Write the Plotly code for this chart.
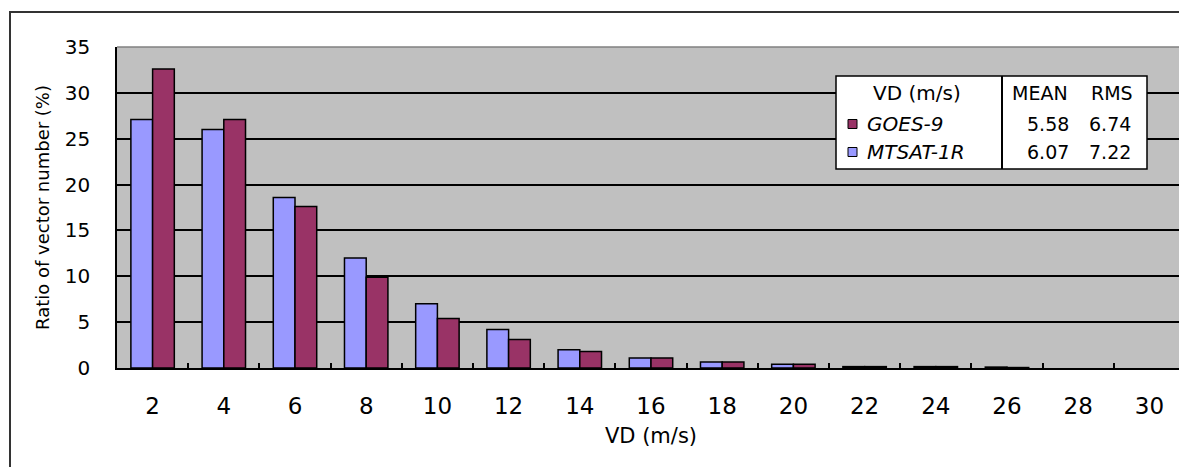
import plotly.graph_objects as go

categories = ["2", "4", "6", "8", "10", "12", "14", "16", "18", "20", "22", "24", "26", "28", "30"]
mtsat = [27.1, 26.0, 18.6, 12.0, 7.0, 4.2, 2.0, 1.1, 0.65, 0.4, 0.15, 0.15, 0.1, 0.0, 0.0]
goes = [32.6, 27.1, 17.6, 9.9, 5.4, 3.1, 1.8, 1.1, 0.65, 0.4, 0.15, 0.15, 0.05, 0.0, 0.0]

series_names = ["GOES-9", "MTSAT-1R"]
series_colors = ["#993366", "#9999FF"]
stat_header = ["MEAN", "RMS"]
stat_values = [["5.58", "6.74"], ["6.07", "7.22"]]

# page offset of the plotly div (default body margin)
OFF = 8
W, H = 1187 - OFF, 467 - OFF
# plot area in page pixels
L, R, T, B = 117, 1185, 47, 368

def px(x):
    return (x - L) / (R - L)

def py(y):
    return (B - y) / (B - T)

FONT = "DejaVu Sans"

def outline(vals):
    return [1.5 if v > 0 else 0 for v in vals]

fig = go.Figure()
fig.add_trace(go.Bar(x=categories, y=mtsat, name=series_names[1],
                     marker=dict(color=series_colors[1], line=dict(color="black", width=outline(mtsat)))))
fig.add_trace(go.Bar(x=categories, y=goes, name=series_names[0],
                     marker=dict(color=series_colors[0], line=dict(color="black", width=outline(goes)))))

fig.update_layout(
    width=W, height=H,
    margin=dict(l=L - OFF, r=(1187 - R), t=T - OFF, b=(467 - B), pad=0),
    paper_bgcolor="white",
    plot_bgcolor="#C0C0C0",
    barmode="group", bargap=0.39, bargroupgap=0,
    showlegend=False,
    font=dict(family=FONT, size=18, color="black"),
)
fig.update_xaxes(
    type="category", showgrid=False,
    showline=True, linecolor="black", linewidth=1.5, mirror=False,
    ticks="inside", tickson="boundaries", ticklen=5, tickcolor="black", tickwidth=1.5,
    tickfont=dict(size=23),
    ticklabelstandoff=17,
    title=dict(text="VD (m/s)", font=dict(size=21), standoff=10),
)
fig.update_yaxes(
    range=[0, 35], dtick=5, tick0=0,
    showgrid=True, gridcolor="black", gridwidth=1.5,
    showline=True, linecolor="black", linewidth=1.5,
    ticks="inside", ticklen=5, tickcolor="black", tickwidth=1.5,
    tickfont=dict(size=20),
    ticklabelstandoff=21,
    zeroline=False,
    title=dict(text="Ratio of vector number (%)", font=dict(size=18), standoff=10),
)

shapes = []
shapes.append(dict(type="line", xref="paper", yref="paper", x0=0, x1=1, y0=1, y1=1,
                   line=dict(color="#808080", width=1.5)))
shapes.append(dict(type="line", xref="paper", yref="paper", x0=1, x1=1, y0=0, y1=1,
                   line=dict(color="#808080", width=1.5)))
shapes.append(dict(type="rect", xref="paper", yref="paper",
                   x0=px(10), x1=px(1200), y0=py(480), y1=py(12),
                   line=dict(color="#333333", width=2), fillcolor="rgba(0,0,0,0)", layer="below"))
bx0, bx1, by0, by1, bdiv = 836, 1147, 169, 76, 1002
shapes.append(dict(type="rect", xref="paper", yref="paper",
                   x0=px(bx0), x1=px(bx1), y0=py(by0), y1=py(by1),
                   line=dict(color="black", width=1.5), fillcolor="white"))
shapes.append(dict(type="line", xref="paper", yref="paper",
                   x0=px(bdiv), x1=px(bdiv), y0=py(by0), y1=py(by1),
                   line=dict(color="black", width=2)))
rows_y = [124, 152]
for i, name in enumerate(series_names):
    yc = rows_y[i]
    shapes.append(dict(type="rect", xref="paper", yref="paper",
                       x0=px(848), x1=px(857), y0=py(yc + 4.5), y1=py(yc - 4.5),
                       line=dict(color="black", width=1), fillcolor=series_colors[i]))

annotations = []
def ann(text, x, y, anchor, size=19):
    annotations.append(dict(text=text, x=px(x), y=py(y), xref="paper", yref="paper",
                            showarrow=False, xanchor=anchor, yanchor="middle", font=dict(size=size)))

ann("VD (m/s)", 917, 93, "center", 20)
ann(stat_header[0], 1040, 93, "center")
ann(stat_header[1], 1112, 93, "center")
for i, name in enumerate(series_names):
    yc = rows_y[i]
    ann("<i>" + name + "</i>", 865, yc, "left", 20)
    ann(stat_values[i][0], 1071, yc, "right")
    ann(stat_values[i][1], 1133, yc, "right")

fig.update_layout(shapes=shapes, annotations=annotations)
fig.write_html("out.html")
